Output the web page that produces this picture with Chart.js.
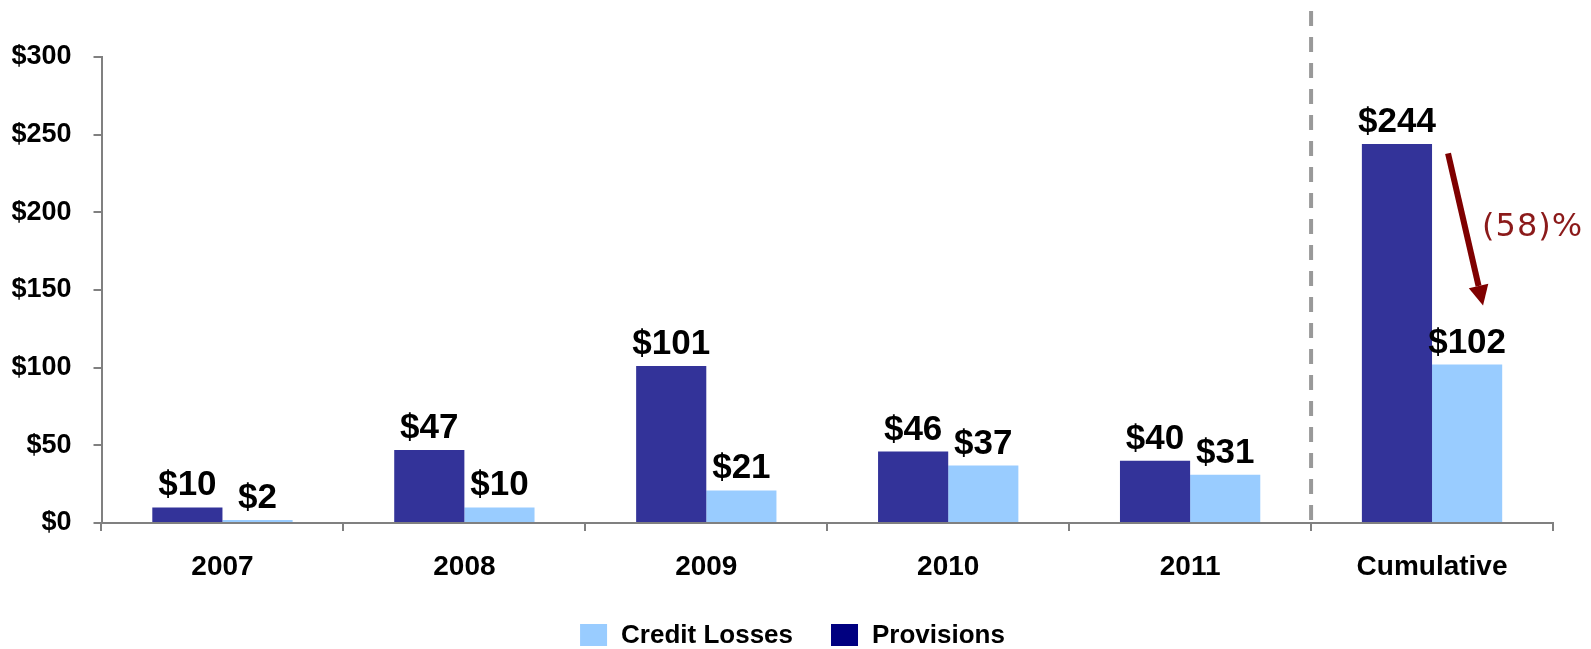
<!DOCTYPE html>
<html>
<head>
<meta charset="utf-8">
<script src="https://cdn.jsdelivr.net/npm/chart.js@4.4.1/dist/chart.umd.min.js"></script>
<style>
  html, body { margin: 0; padding: 0; background: #fff; }
  #wrap { width: 1591px; height: 649px; position: relative; }
</style>
</head>
<body>
<div id="wrap"><canvas id="lossChart"></canvas></div>
<script>
// data
const categories = ['2007', '2008', '2009', '2010', '2011', 'Cumulative'];
const provisions = [10, 47, 101, 46, 40, 244];
const creditLosses = [2, 10, 21, 37, 31, 102];
const yTicks = [0, 50, 100, 150, 200, 250, 300];
const changeLabel = '(58)%';
const arrowFrom = 238;   // value where the arrow starts
const arrowTo = 140;     // value where the arrow head ends

const FONT = '"Liberation Sans", Arial, Helvetica, sans-serif';

document.addEventListener("DOMContentLoaded", function() {

    Chart.defaults.font.family = FONT;

    // value labels above each bar
    const valueLabels = {
        id: 'valueLabels',
        afterDatasetsDraw(chart) {
            const ctx = chart.ctx;
            ctx.save();
            ctx.font = 'bold 35px ' + FONT;
            ctx.fillStyle = '#000';
            ctx.textAlign = 'center';
            ctx.textBaseline = 'alphabetic';
            chart.data.datasets.forEach((ds, i) => {
                chart.getDatasetMeta(i).data.forEach((bar, j) => {
                    ctx.fillText('$' + ds.data[j], bar.x, bar.y - 12);
                });
            });
            ctx.restore();
        }
    };

    // dashed divider + arrow + percentage + legend
    const extras = {
        id: 'extras',
        afterDraw(chart) {
            const ctx = chart.ctx;
            const x = chart.scales.x, y = chart.scales.y;
            ctx.save();

            // dashed separator before "Cumulative"
            const sepX = (x.getPixelForValue(4) + x.getPixelForValue(5)) / 2;
            ctx.strokeStyle = '#999999';
            ctx.lineWidth = 4;
            ctx.setLineDash([15, 11]);
            ctx.beginPath();
            ctx.moveTo(sepX, 11);
            ctx.lineTo(sepX, chart.chartArea.bottom - 2);
            ctx.stroke();
            ctx.setLineDash([]);

            // arrow
            const cx = x.getPixelForValue(5);
            const x1 = cx + 16, y1 = y.getPixelForValue(arrowFrom);
            const x2 = cx + 51, y2 = y.getPixelForValue(arrowTo);
            const ang = Math.atan2(y2 - y1, x2 - x1);
            const headLen = 20, headW = 10;
            const bx = x2 - headLen * Math.cos(ang), by = y2 - headLen * Math.sin(ang);
            ctx.strokeStyle = '#7f0000';
            ctx.fillStyle = '#7f0000';
            ctx.lineWidth = 6;
            ctx.beginPath();
            ctx.moveTo(x1, y1);
            ctx.lineTo(bx, by);
            ctx.stroke();
            ctx.beginPath();
            ctx.moveTo(x2, y2);
            ctx.lineTo(bx + headW * Math.sin(ang), by - headW * Math.cos(ang));
            ctx.lineTo(bx - headW * Math.sin(ang), by + headW * Math.cos(ang));
            ctx.closePath();
            ctx.fill();

            // percentage text
            ctx.fillStyle = '#8b1a1a';
            ctx.font = '32px "DejaVu Sans", sans-serif';
            ctx.letterSpacing = '1px';
            ctx.textAlign = 'left';
            ctx.textBaseline = 'alphabetic';
            ctx.fillText(changeLabel, cx + 50, 236);
            ctx.letterSpacing = '0px';

            // legend (Credit Losses first, Provisions second)
            const items = [
                { text: 'Credit Losses', color: '#99ccff' },
                { text: 'Provisions', color: '#000080' }
            ];
            ctx.font = 'bold 26px ' + FONT;
            ctx.textBaseline = 'middle';
            const boxW = 27, boxH = 22, gapText = 14, gapItem = 38;
            const widths = items.map(it => boxW + gapText + ctx.measureText(it.text).width);
            const total = widths[0] + gapItem + widths[1];
            let lx = chart.width / 2 - total / 2 - 3;
            const ly = 635;
            items.forEach((it, i) => {
                ctx.fillStyle = it.color;
                ctx.fillRect(lx, ly - boxH / 2, boxW, boxH);
                ctx.fillStyle = '#000';
                ctx.fillText(it.text, lx + boxW + gapText, ly + 1);
                lx += widths[i] + gapItem;
            });

            ctx.restore();
        }
    };

    const ctx = document.getElementById('lossChart');
    new Chart(ctx, {
        type: 'bar',
        data: {
            labels: categories,
            datasets: [
                { label: 'Provisions', data: provisions, backgroundColor: '#333399' },
                { label: 'Credit Losses', data: creditLosses, backgroundColor: '#99ccff' }
            ]
        },
        options: {
            responsive: true,
            maintainAspectRatio: false,
            animation: false,
            layout: { padding: { top: 57, right: 38, left: 0, bottom: 0 } },
            datasets: { bar: { categoryPercentage: 0.58, barPercentage: 1.0 } },
            plugins: { legend: { display: false }, tooltip: { enabled: false } },
            scales: {
                x: {
                    offset: true,
                    grid: { offset: true, drawOnChartArea: false, drawTicks: true, tickLength: 8, color: '#808080', lineWidth: 2 },
                    border: { display: true, color: '#808080', width: 2 },
                    ticks: { color: '#000', font: { size: 28, weight: 'bold' }, padding: 19 },
                    afterFit: (s) => { s.height = 126; }
                },
                y: {
                    min: 0, max: 300,
                    afterBuildTicks: (s) => { s.ticks = yTicks.map(v => ({ value: v })); },
                    grid: { drawOnChartArea: false, drawTicks: true, tickLength: 8, color: '#808080', lineWidth: 2 },
                    border: { display: true, color: '#808080', width: 2 },
                    ticks: { color: '#000', font: { size: 27, weight: 'bold' }, padding: 22, callback: (v) => '$' + v },
                    afterFit: (s) => { s.width = 101.5; }
                }
            }
        },
        plugins: [valueLabels, extras]
    });

});
</script>
</body>
</html>
